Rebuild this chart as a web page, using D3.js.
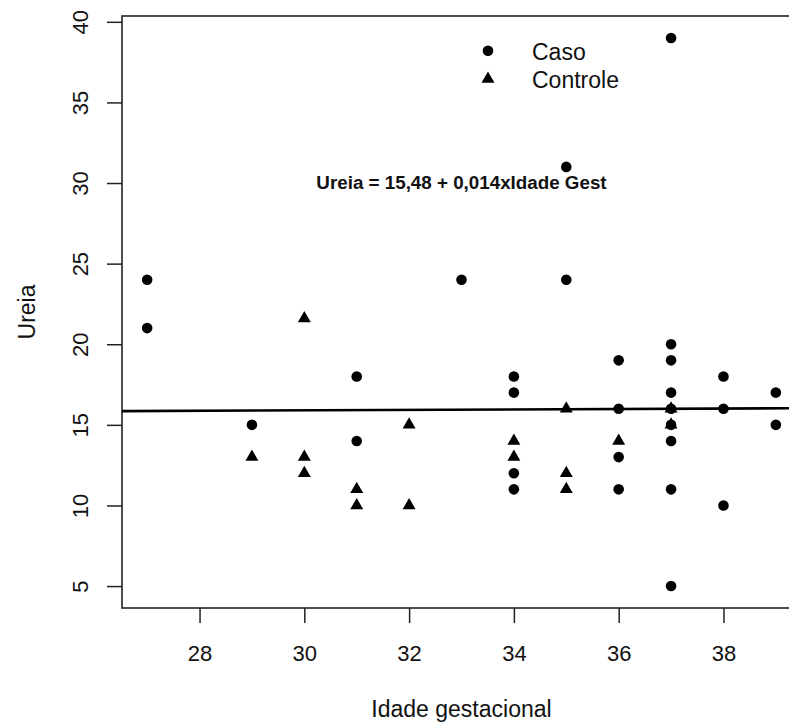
<!DOCTYPE html>
<html>
<head>
<meta charset="utf-8">
<script src="https://cdn.jsdelivr.net/npm/d3@7"></script>
<style>
  html, body { margin: 0; padding: 0; background: #fff; }
  svg { display: block; }
  text { font-family: "Liberation Sans", Arial, Helvetica, sans-serif; fill: #111; }
</style>
</head>
<body>
<svg id="chart" width="789" height="724"></svg>
<script>
// ---- data ----
const casoIdade = [27, 27, 29, 31, 31, 33, 34, 34, 34, 34, 35, 35, 36, 36, 36, 36,
                   37, 37, 37, 37, 37, 37, 37, 37, 37, 38, 38, 38, 39, 39];
const casoUreia = [24, 21, 15, 18, 14, 24, 18, 17, 12, 11, 31, 24, 19, 16, 13, 11,
                   39, 20, 19, 17, 16, 15, 14, 11, 5, 18, 16, 10, 17, 15];
const controleIdade = [29, 30, 30, 30, 31, 31, 32, 32, 34, 34, 35, 35, 35, 36, 37, 37];
const controleUreia = [13, 21.6, 13, 12, 11, 10, 15, 10, 14, 13, 16, 12, 11, 14, 16, 15];
const xTicks = [28, 30, 32, 34, 36, 38];
const yTicks = [5, 10, 15, 20, 25, 30, 35, 40];
const intercept = 15.48, slope = 0.014;
const legendLabels = ["Caso", "Controle"];
const equationLabel = "Ureia = 15,48 + 0,014xIdade Gest";
const xTitle = "Idade gestacional", yTitle = "Ureia";

// ---- layout ----
const svg = d3.select("#chart");
const L = 122, R = 801, T = 16, B = 608;
const x = d3.scaleLinear().domain([26.52, 39.48]).range([L, R]);
const y = d3.scaleLinear().domain([3.64, 40.36]).range([B, T]);

// x axis
const gx = svg.append("g").attr("transform", `translate(0,${B})`)
  .call(d3.axisBottom(x).tickValues(xTicks).tickSize(15).tickPadding(22).tickFormat(d3.format("d")));
gx.select(".domain").remove();
gx.selectAll(".tick line").attr("stroke", "#222").attr("stroke-width", 1.5);
gx.selectAll(".tick text").style("font-size", "22px").attr("fill", "#111")
  .style("font-family", '"Liberation Sans", Arial, sans-serif');

// y axis
const gy = svg.append("g").attr("transform", `translate(${L},0)`)
  .call(d3.axisLeft(y).tickValues(yTicks).tickSize(15).tickFormat(d3.format("d")));
gy.select(".domain").remove();
gy.selectAll(".tick line").attr("stroke", "#222").attr("stroke-width", 1.5);
gy.selectAll(".tick text")
  .attr("x", null).attr("dy", null)
  .attr("text-anchor", "middle")
  .attr("transform", "translate(-34,0) rotate(-90)")
  .style("font-size", "22px").attr("fill", "#111")
  .style("font-family", '"Liberation Sans", Arial, sans-serif');

// box
svg.append("rect").attr("x", L).attr("y", T).attr("width", R - L).attr("height", B - T)
  .attr("fill", "none").attr("stroke", "#222").attr("stroke-width", 1.6);

// regression line
const xd = x.domain();
svg.append("line")
  .attr("x1", x(xd[0])).attr("y1", y(intercept + slope * xd[0]))
  .attr("x2", x(xd[1])).attr("y2", y(intercept + slope * xd[1]))
  .attr("stroke", "#000").attr("stroke-width", 2.6);

// points
const tri = d3.symbol().type(d3.symbolTriangle).size(73);
svg.append("g").selectAll("circle").data(casoIdade.map((d, i) => [d, casoUreia[i]]))
  .join("circle").attr("cx", d => x(d[0])).attr("cy", d => y(d[1])).attr("r", 5.3).attr("fill", "#000");
svg.append("g").selectAll("path").data(controleIdade.map((d, i) => [d, controleUreia[i]]))
  .join("path").attr("d", tri).attr("transform", d => `translate(${x(d[0])},${y(d[1])})`).attr("fill", "#000");

// equation
svg.append("text").attr("x", (L + R) / 2).attr("y", 189).attr("text-anchor", "middle")
  .style("font-size", "18.8px").style("font-weight", "bold").text(equationLabel);

// legend
svg.append("circle").attr("cx", 488).attr("cy", 50.7).attr("r", 5.3).attr("fill", "#000");
svg.append("path").attr("d", tri).attr("transform", "translate(488,79)").attr("fill", "#000");
svg.append("text").attr("x", 532).attr("y", 60).style("font-size", "23px").text(legendLabels[0]);
svg.append("text").attr("x", 532).attr("y", 88).style("font-size", "23px").text(legendLabels[1]);

// axis titles
svg.append("text").attr("x", (L + R) / 2).attr("y", 717).attr("text-anchor", "middle")
  .style("font-size", "23px").text(xTitle);
svg.append("text").attr("transform", `translate(35,${(T + B) / 2}) rotate(-90)`)
  .attr("text-anchor", "middle").style("font-size", "23px").text(yTitle);
</script>
</body>
</html>
